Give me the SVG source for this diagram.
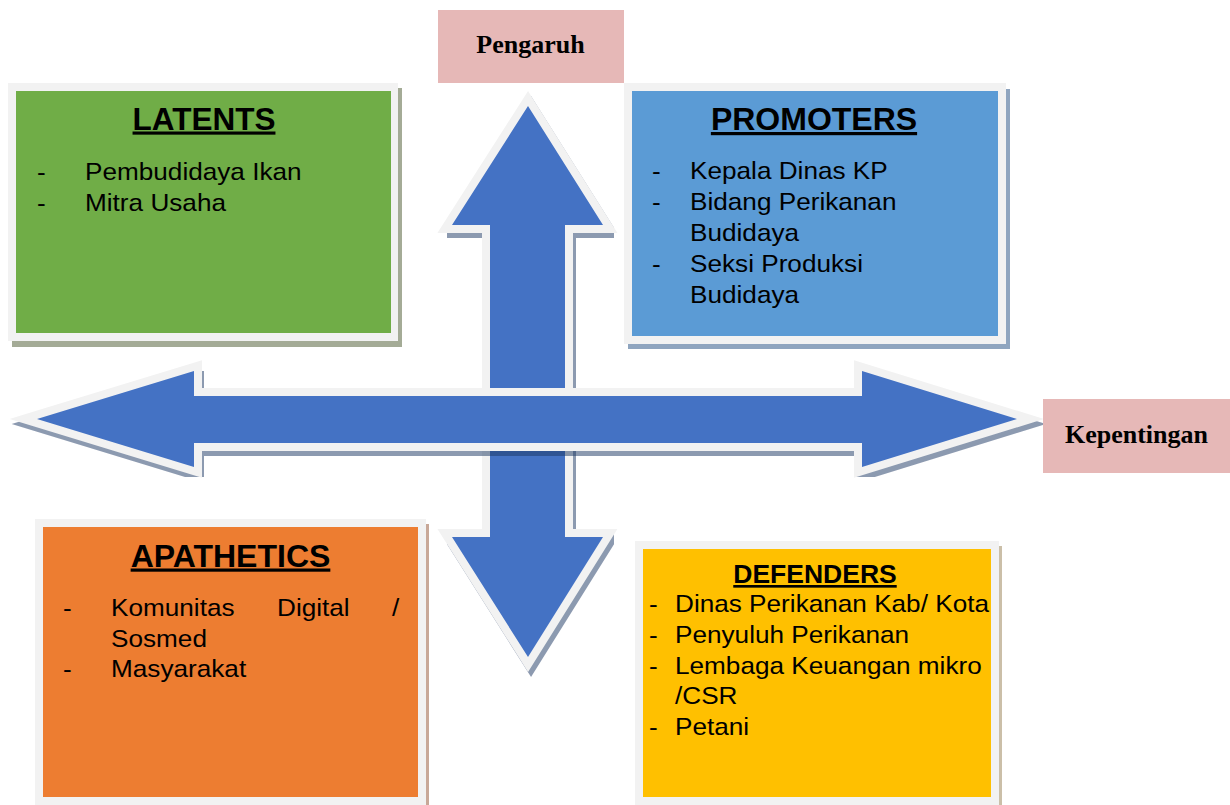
<svg xmlns="http://www.w3.org/2000/svg" width="1230" height="805" viewBox="0 0 1230 805">
<defs>
<style>
.body{font-family:"Liberation Sans",Arial,sans-serif;font-size:24px;fill:#000}
.title{font-family:"Liberation Sans",Arial,sans-serif;font-weight:bold;fill:#000;text-anchor:middle;text-decoration:underline}
.lbl{font-family:"Liberation Serif","Times New Roman",serif;font-weight:bold;font-size:26px;fill:#000;text-anchor:middle}
.rim{fill:#f2f2f2}
.arrowRim{fill:#f2f2f2;stroke:#f2f2f2;stroke-width:16;stroke-linejoin:miter;stroke-miterlimit:6}
.arrowFill{fill:#4472c4}
.arrowShadow{fill:#1f3864;stroke:#1f3864;stroke-width:16;stroke-linejoin:miter;stroke-miterlimit:6}
</style>
<filter id="soft" x="-5%" y="-5%" width="110%" height="110%"><feGaussianBlur stdDeviation="0.7"/></filter>
<clipPath id="defClip"><rect x="643" y="549" width="348" height="248"/></clipPath>
</defs>
<rect width="1230" height="805" fill="#ffffff"/>

<g id="connectors">
  <g id="vertical-arrow">
    <g opacity="0.5" filter="url(#soft)" transform="translate(3,5)">
      <polygon class="arrowShadow" points="528,106 603,225 565,225 565,537 603,537 528,657 452,537 490,537 490,225 452,225"/>
    </g>
    <polygon class="arrowRim" points="528,106 603,225 565,225 565,537 603,537 528,657 452,537 490,537 490,225 452,225"/>
    <polygon class="arrowFill" points="528,106 603,225 565,225 565,537 603,537 528,657 452,537 490,537 490,225 452,225"/>
  </g>
  <g id="horizontal-arrow">
    <g opacity="0.5" filter="url(#soft)" transform="translate(2,5)">
      <polygon class="arrowShadow" points="37,419 194,371 194,396 862,396 862,371 1017,419 862,467 862,443 194,443 194,467"/>
    </g>
    <polygon class="arrowRim" points="37,419 194,371 194,396 862,396 862,371 1017,419 862,467 862,443 194,443 194,467"/>
    <polygon class="arrowFill" points="37,419 194,371 194,396 862,396 862,371 1017,419 862,467 862,443 194,443 194,467"/>
  </g>
</g>

<g id="pengaruh">
  <rect x="438" y="10" width="186" height="73" fill="#e6b8b7"/>
  <text class="lbl" x="530.5" y="52.5">Pengaruh</text>
</g>

<g id="kepentingan">
  <rect x="1043" y="399" width="187" height="74" fill="#e6b8b7"/>
  <text class="lbl" x="1136.5" y="443">Kepentingan</text>
</g>

<g id="latents">
  <rect x="12" y="88" width="390" height="259" fill="#a4ab96"/>
  <rect class="rim" x="8" y="83" width="390" height="258"/>
  <rect x="16" y="91" width="375" height="242" fill="#70ad47"/>
  <text class="title" x="204" y="129.5" font-size="31.5">LATENTS</text>
  <text class="body" transform="translate(37,180) scale(1.09,1)">-</text>
  <text class="body" transform="translate(85,180) scale(1.09,1)">Pembudidaya Ikan</text>
  <text class="body" transform="translate(37,211) scale(1.09,1)">-</text>
  <text class="body" transform="translate(85,211) scale(1.09,1)">Mitra Usaha</text>
</g>

<g id="promoters">
  <rect x="628" y="89" width="382" height="260" fill="#8fa5bf"/>
  <rect class="rim" x="624" y="83" width="382" height="261"/>
  <rect x="632" y="91" width="366" height="245" fill="#5b9bd5"/>
  <text class="title" x="814" y="130" font-size="32">PROMOTERS</text>
  <text class="body" transform="translate(652,179) scale(1.09,1)">-</text>
  <text class="body" transform="translate(690,179) scale(1.09,1)">Kepala Dinas KP</text>
  <text class="body" transform="translate(652,210) scale(1.09,1)">-</text>
  <text class="body" transform="translate(690,210) scale(1.09,1)">Bidang Perikanan</text>
  <text class="body" transform="translate(690,241) scale(1.09,1)">Budidaya</text>
  <text class="body" transform="translate(652,272) scale(1.09,1)">-</text>
  <text class="body" transform="translate(690,272) scale(1.09,1)">Seksi Produksi</text>
  <text class="body" transform="translate(690,303) scale(1.09,1)">Budidaya</text>
</g>

<g id="apathetics">
  <rect x="39" y="524" width="390" height="290" fill="#c8a898"/>
  <rect class="rim" x="35" y="519" width="391" height="295"/>
  <rect x="43" y="527" width="375" height="270" fill="#ed7d31"/>
  <text class="title" x="230.5" y="566.5" font-size="32">APATHETICS</text>
  <text class="body" transform="translate(63,616) scale(1.09,1)">-</text>
  <text class="body" transform="translate(111,616) scale(1.09,1)">Komunitas<tspan x="152.3">Digital</tspan><tspan x="257.8">/</tspan></text>
  <text class="body" transform="translate(111,647) scale(1.09,1)">Sosmed</text>
  <text class="body" transform="translate(63,677) scale(1.09,1)">-</text>
  <text class="body" transform="translate(111,677) scale(1.09,1)">Masyarakat</text>
</g>

<g id="defenders">
  <rect x="639" y="546" width="363" height="268" fill="#cbbfa8"/>
  <rect class="rim" x="635" y="541" width="364" height="273"/>
  <rect x="643" y="549" width="348" height="248" fill="#ffc000"/>
  <text class="title" x="815" y="583" font-size="26.5">DEFENDERS</text>
  <g clip-path="url(#defClip)">
    <text class="body" transform="translate(649,612) scale(1.09,1)">-</text>
    <text class="body" transform="translate(675,612) scale(1.09,1)">Dinas Perikanan Kab/ Kota</text>
    <text class="body" transform="translate(649,643) scale(1.09,1)">-</text>
    <text class="body" transform="translate(675,643) scale(1.09,1)">Penyuluh Perikanan</text>
    <text class="body" transform="translate(649,674) scale(1.09,1)">-</text>
    <text class="body" transform="translate(675,674) scale(1.09,1)">Lembaga Keuangan mikro</text>
    <text class="body" transform="translate(675,704) scale(1.09,1)">/CSR</text>
    <text class="body" transform="translate(649,735) scale(1.09,1)">-</text>
    <text class="body" transform="translate(675,735) scale(1.09,1)">Petani</text>
  </g>
</g>
</svg>
